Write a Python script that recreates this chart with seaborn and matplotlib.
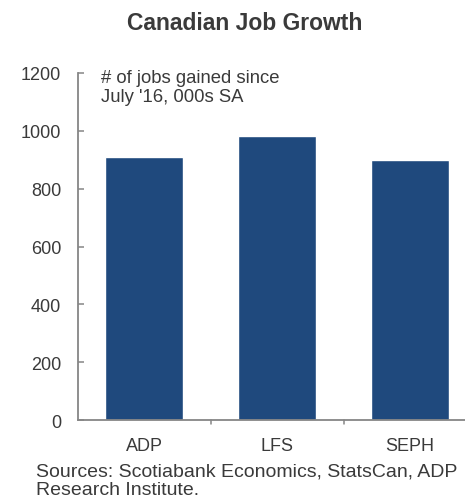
import matplotlib
matplotlib.use("Agg")
import matplotlib.pyplot as plt
import seaborn as sns
import pandas as pd

categories = ["ADP", "LFS", "SEPH"]
jobs_gained = [908, 981, 900]
yticks = [0, 200, 400, 600, 800, 1000, 1200]

sns.set_theme(style="white")
plt.rcParams["font.family"] = ["Liberation Sans", "DejaVu Sans"]

W, H = 465, 502
fig = plt.figure(figsize=(W / 100, H / 100), dpi=100)
left, right = 77.7, 476.7
top, bottom = 74.0, 421.0
ax = fig.add_axes([left / W, 1 - bottom / H, (right - left) / W, (bottom - top) / H])

df = pd.DataFrame({"cat": categories, "val": jobs_gained})
sns.barplot(data=df, x="cat", y="val", color="#1F497D", saturation=1, width=0.59, ax=ax)

ax.set_ylim(0, 1200)
ax.set_xlim(-0.5, 2.5)
ax.set_yticks(yticks)
ax.set_yticklabels([str(v) for v in yticks])
ax.set_xlabel("")
ax.set_ylabel("")

for s in ["top", "right"]:
    ax.spines[s].set_visible(False)
for s in ["left", "bottom"]:
    ax.spines[s].set_color("#868686")
    ax.spines[s].set_linewidth(1.3)

txtc = "#3a3a3a"
ax.tick_params(axis="y", direction="in", length=4, width=1.1, color="#868686",
               labelsize=13, labelcolor=txtc, pad=12, left=True)
ax.set_xticks([0, 1, 2])
ax.set_xticklabels(categories)
ax.tick_params(axis="x", length=0, labelsize=13, labelcolor=txtc, pad=12)
for xb in [0.5, 1.5]:
    ax.plot([xb, xb], [0, -0.012], transform=ax.get_xaxis_transform(),
            color="#868686", lw=1.1, clip_on=False)

fig.text(245 / W, 1 - 23 / H, "Canadian Job Growth", ha="center", va="center",
         fontsize=16.5, fontweight="bold", color=txtc)
fig.text(101 / W, 1 - 88 / H, "# of jobs gained since\nJuly '16, 000s SA", ha="left",
         va="center", fontsize=13.3, color=txtc, linespacing=1.12)
fig.text(36 / W, 1 - 481 / H, "Sources: Scotiabank Economics, StatsCan, ADP\nResearch Institute.",
         ha="left", va="center", fontsize=14, color=txtc, linespacing=1.08)

fig.savefig("out.png", dpi=100)
